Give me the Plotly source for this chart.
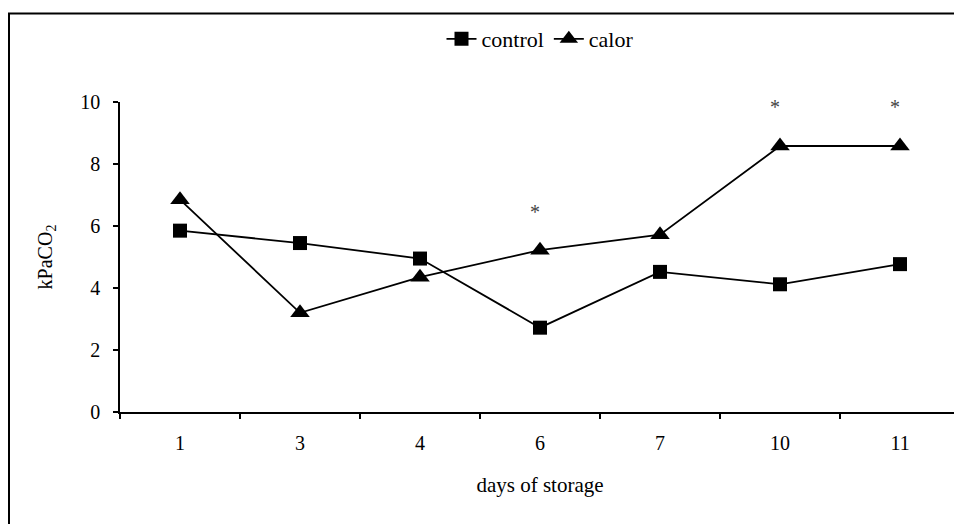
import plotly.graph_objects as go

days = ["1", "3", "4", "6", "7", "10", "11"]
control = [5.85, 5.45, 4.95, 2.72, 4.52, 4.12, 4.77]
calor = [6.85, 3.2, 4.35, 5.22, 5.72, 8.58, 8.58]
star_days = ["6", "10", "11"]
star_y = [6.45, 9.85, 9.85]

FONT = "'Liberation Serif', 'Times New Roman', Times, serif"

fig = go.Figure()
fig.add_trace(go.Scatter(
    x=days, y=control, name="control", mode="lines+markers",
    line=dict(color="black", width=1.8),
    marker=dict(symbol="square", size=14, color="black"),
))
fig.add_trace(go.Scatter(
    x=days, y=calor, name="calor", mode="lines+markers",
    line=dict(color="black", width=1.8),
    marker=dict(symbol="triangle-up", size=17, color="black"),
))

for d, y in zip(star_days, star_y):
    fig.add_annotation(x=days.index(d), y=y, text="*", showarrow=False, xshift=-5,
                       font=dict(family=FONT, size=20, color="#444"))

fig.add_shape(type="rect", xref="paper", yref="paper",
              x0=-111 / 840, x1=1.2, y0=-0.6, y1=(404 + 1) / 315,
              line=dict(color="black", width=2))

fig.update_layout(
    width=962, height=524,
    margin=dict(l=112, r=10, t=87, b=120),
    plot_bgcolor="white", paper_bgcolor="white",
    font=dict(family=FONT, size=20, color="black"),
    showlegend=True,
    legend=dict(orientation="h", x=0.5, xanchor="center", y=1.203, yanchor="middle",
                font=dict(family=FONT, size=22), itemwidth=30, bgcolor="rgba(0,0,0,0)"),
    xaxis=dict(type="category", range=[-0.5, 6.5], showline=True, linecolor="black",
               linewidth=1.5, ticks="outside", tickson="boundaries", ticklen=5,
               tickcolor="black", tickwidth=1.5, showgrid=False, zeroline=False,
               tickfont=dict(family=FONT, size=20), ticklabelstandoff=12,
               title=dict(text="days of storage", standoff=25,
                          font=dict(family=FONT, size=21))),
    yaxis=dict(range=[0, 10], dtick=2, showline=True, linecolor="black", linewidth=1.5,
               ticks="outside", ticklen=5, tickcolor="black", tickwidth=1.5,
               showgrid=False, zeroline=False, tickfont=dict(family=FONT, size=20),
               ticklabelstandoff=9,
               title=dict(text="kPaCO<sub>2</sub>", standoff=22,
                          font=dict(family=FONT, size=20))),
)

fig.write_html("out.html")
